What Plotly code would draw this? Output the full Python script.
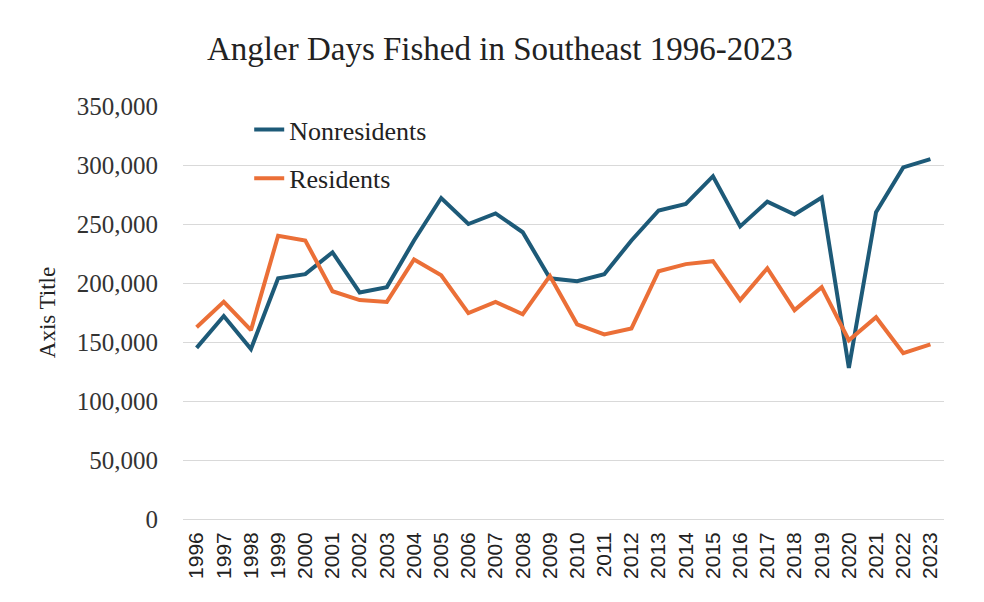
import plotly.graph_objects as go

years = [str(y) for y in range(1996, 2024)]
nonresidents = [145000, 172000, 144000, 204000, 207500, 226000, 192000, 196500,
                236000, 272000, 250000, 259000, 243000, 204000, 201500, 207500,
                236000, 261500, 267000, 290500, 248000, 269000, 258000, 272500,
                128000, 260000, 298000, 305000]
residents = [162500, 184000, 160000, 240000, 236000, 193000, 185500, 184000,
             220000, 206500, 174500, 184000, 173500, 206000, 165000, 156500,
             161500, 210000, 216000, 218500, 185500, 212500, 177000, 196500,
             151500, 171000, 140500, 148000]
y_ticks = [0, 50000, 100000, 150000, 200000, 250000, 300000, 350000]

serif = "Liberation Serif, Times New Roman, serif"

fig = go.Figure()
fig.add_trace(go.Scatter(x=years, y=nonresidents, mode="lines", name="Nonresidents",
                         legendgroup="a",
                         line=dict(color="#1d5a78", width=4)))
fig.add_trace(go.Scatter(x=years, y=residents, mode="lines", name="Residents",
                         legendgroup="b",
                         line=dict(color="#eb6f37", width=4)))

fig.update_layout(
    width=984, height=602,
    margin=dict(l=183, r=40, t=106, b=83),
    paper_bgcolor="white", plot_bgcolor="white",
    title=dict(text="Angler Days Fished in Southeast 1996-2023",
               x=0.508, xanchor="center", y=1 - 48 / 602, yanchor="middle",
               yref="container",
               font=dict(family=serif, size=33, color="#222222")),
    showlegend=True,
    legend=dict(x=0.087, y=1.0, xanchor="left", yanchor="top",
                bgcolor="rgba(0,0,0,0)", tracegroupgap=12,
                font=dict(family=serif, size=26, color="#222222")),
    xaxis=dict(type="category", range=[-0.5, 27.5], tickangle=-90,
               tickmode="array", tickvals=years, ticktext=years,
               showgrid=False, showline=False, ticks="", ticklabelstandoff=8,
               tickfont=dict(family="Liberation Sans, Arial, sans-serif", size=21,
                             color="#222222")),
    yaxis=dict(range=[0, 350000], tickvals=y_ticks,
               ticktext=[f"{v:,}" for v in y_ticks],
               showgrid=True, gridcolor="#d9d9d9", gridwidth=1,
               zeroline=True, zerolinecolor="#d9d9d9", zerolinewidth=1,
               ticks="", ticklabelstandoff=24,
               tickfont=dict(family=serif, size=25, color="#333333"),
               title=dict(text="Axis Title", standoff=14,
                          font=dict(family=serif, size=23, color="#222222"))),
)

fig.write_html("out.html")
